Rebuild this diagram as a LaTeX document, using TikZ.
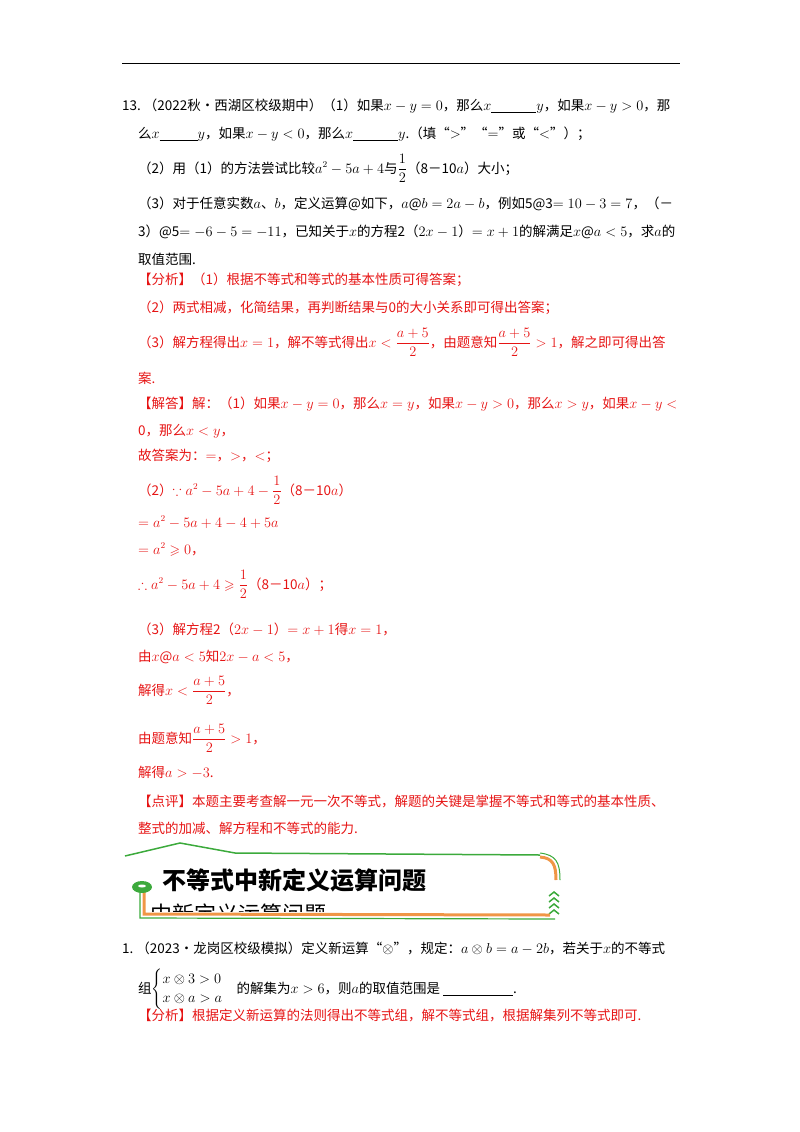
\documentclass[tikz,border=0pt]{standalone}
\usepackage{fontspec}
\usepackage{amsmath,amssymb}
\setmainfont{Noto Sans CJK SC}
\definecolor{ansred}{RGB}{230,20,20}
\definecolor{bgreen}{RGB}{60,170,60}
\definecolor{borange}{RGB}{240,150,70}
\tikzset{
  txt/.style={anchor=base west,inner sep=0pt,font=\fontsize{13.5}{16}\selectfont},
  ans/.style={txt,text=ansred},
}
\newcommand{\blank}[1]{\underline{\hspace{#1pt}}}
\newcommand{\fr}[2]{\dfrac{#1}{#2}}
\begin{document}
\begin{tikzpicture}[x=1pt,y=-1pt]
\useasboundingbox (0,0) rectangle (800,1132);
\draw[line width=0.8pt] (122,63) -- (680,63);

% question 13
\node[txt] (q1) at (122,110) {13.\ （2022秋•西湖区校级期中）（1）如果$x-y=0$，那么$x$\blank{45}$y$，如果$x-y>0$，那};
\node[txt] (q2) at (138,138) {么$x$\blank{38}$y$，如果$x-y<0$，那么$x$\blank{45}$y$.（填“$>$”“$=$”或“$<$”）；};
\node[txt] (q3) at (138,173) {（2）用（1）的方法尝试比较$a^2-5a+4$与$\fr12$（8－10$a$）大小；};
\node[txt] (q4) at (138,208) {（3）对于任意实数$a$、$b$，定义运算@如下，$a$@$b=2a-b$，例如5@3$=10-3=7$，（－};
\node[txt] (q5) at (138,236) {3）@5$=-6-5=-11$，已知关于$x$的方程2（$2x-1$）$=x+1$的解满足$x$@$a<5$，求$a$的};
\node[txt] (q6) at (138,264) {取值范围.};

\node[ans] (a1) at (138,284) {【分析】（1）根据不等式和等式的基本性质可得答案；};
\node[ans] (a2) at (138,312) {（2）两式相减，化简结果，再判断结果与0的大小关系即可得出答案；};
\node[ans] (a3) at (138,347) {（3）解方程得出$x=1$，解不等式得出$x<\fr{a+5}{2}$，由题意知$\fr{a+5}{2}>1$，解之即可得出答};
\node[ans] (a4) at (138,383) {案.};
\node[ans] (s1) at (138,408) {【解答】解：（1）如果$x-y=0$，那么$x=y$，如果$x-y>0$，那么$x>y$，如果$x-y<$};
\node[ans] (s2) at (138,435) {0，那么$x<y$，};
\node[ans] (s3) at (138,460) {故答案为：$=$，$>$，$<$；};
\node[ans] (s4) at (138,495) {（2）$\because a^2-5a+4-\fr12$（8－10$a$）};
\node[ans] (s5) at (138,527) {$=a^2-5a+4-4+5a$};
\node[ans] (s6) at (138,554) {$=a^2\geqslant0$，};
\node[ans] (s7) at (138,589) {$\therefore a^2-5a+4\geqslant\fr12$（8－10$a$）；};
\node[ans] (s8) at (138,634) {（3）解方程2（$2x-1$）$=x+1$得$x=1$，};
\node[ans] (s9) at (138,661) {由$x$@$a<5$知$2x-a<5$，};
\node[ans] (s10) at (138,695) {解得$x<\fr{a+5}{2}$，};
\node[ans] (s11) at (138,743) {由题意知$\fr{a+5}{2}>1$，};
\node[ans] (s12) at (138,777) {解得$a>-3$.};
\node[ans] (p1) at (138,806) {【点评】本题主要考查解一元一次不等式，解题的关键是掌握不等式和等式的基本性质、};
\node[ans] (p2) at (138,833) {整式的加减、解方程和不等式的能力.};

% banner
\draw[bgreen,line width=1.5pt] (125,856) -- (180,843) -- (235,853) -- (540,855);
\draw[borange,line width=3pt] (540,857) .. controls (553,858) and (556,865) .. (556,880);
\draw[bgreen,line width=1pt] (540,853) .. controls (556,855) and (560,862) .. (560,880);
\foreach \yy in {892,898,904,910} \draw[bgreen,line width=1.5pt] (549,\yy+4) -- (554,\yy) -- (559,\yy+4);
\draw[borange,line width=3pt] (144,892) -- (144,914) -- (550,915);
\draw[bgreen,line width=1.2pt] (140,892) -- (140,918) -- (555,919);
\fill[bgreen] (142,887) ellipse (10pt and 6pt);
\fill[white] (142,886) ellipse (4pt and 1.5pt);
\node[txt,font=\fontsize{24}{26}\selectfont\bfseries] (title) at (162,889) {不等式中新定义运算问题};
\begin{scope}
\clip (146,893) rectangle (540,911);
\node[txt,font=\fontsize{22}{24}\selectfont] (ghost) at (150,922) {中新定义运算问题};
\end{scope}

% question 1
\node[txt] (b1) at (122,953) {1.\ （2023•龙岗区校级模拟）定义新运算“$\otimes$”，规定：$a\otimes b=a-2b$，若关于$x$的不等式};
\node[txt] (b2) at (138,993) {组$\begin{cases}x\otimes3>0\\x\otimes a>a\end{cases}$的解集为$x>6$，则$a$的取值范围是\ \blank{70}.};
\node[ans] (b3) at (138,1020) {【分析】根据定义新运算的法则得出不等式组，解不等式组，根据解集列不等式即可.};
\end{tikzpicture}
\end{document}
